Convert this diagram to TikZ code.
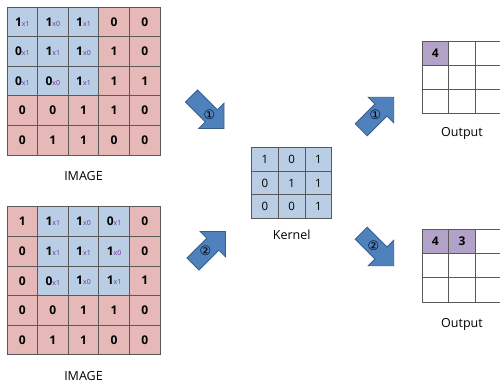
\documentclass[tikz,border=0pt]{standalone}
\usepackage{fontspec}
\setmainfont{Open Sans}
\newfontfamily\circfont{DejaVu Sans}
\usepackage{tikz}
\usetikzlibrary{positioning}

\definecolor{cellblue}{HTML}{B9CDE5}
\definecolor{cellpink}{HTML}{E6B9B8}
\definecolor{cellpurple}{HTML}{B3A2C7}
\definecolor{wtpurple}{HTML}{7030A0}
\definecolor{arrowfill}{HTML}{4F81BD}
\definecolor{arrowline}{HTML}{385D8A}
\definecolor{gridline}{HTML}{595959}

% digit with its kernel weight as a small subscript
\newcommand{\wt}[2]{#1{\fontsize{7}{7}\selectfont\mdseries\color{wtpurple}x#2}}

\tikzset{
  img/.style={draw=gridline, line width=0.8pt, fill=cellpink, minimum width=30.6pt,
    minimum height=29.6pt, inner sep=0pt, font=\fontsize{12}{14}\selectfont\bfseries},
  win/.style={img, fill=cellblue},
  ker/.style={draw=gridline, line width=0.8pt, fill=cellblue, minimum width=26.7pt,
    minimum height=23.7pt, inner sep=0pt, font=\fontsize{11.5}{13}\selectfont},
  outc/.style={draw=gridline, line width=0.8pt, fill=white, minimum width=26.7pt,
    minimum height=24.2pt, inner sep=0pt, font=\fontsize{12}{14}\selectfont\bfseries},
  hit/.style={outc, fill=cellpurple},
  caption/.style={font=\fontsize{12.5}{14}\selectfont, anchor=base},
  circnum/.style={font=\circfont\fontsize{13}{13}\selectfont, inner sep=0pt},
  pics/fatarrow/.style={code={
    \filldraw[fill=arrowfill, draw=arrowline, line width=0.8pt]
      (-28,-8.5) -- (0,-8.5) -- (0,-18) -- (18,0) -- (0,18) -- (0,8.5) -- (-28,8.5) -- cycle;
  }}
}

\begin{document}
\begin{tikzpicture}[x=1pt, y=-1pt]
\useasboundingbox (0,0) rectangle (500,384);
\clip (0,0) rectangle (500,384);

% first step: window in the top left corner
\foreach \row [count=\r from 0] in {
  {win/\wt11, win/\wt10, win/\wt11, img/0, img/0},
  {win/\wt01, win/\wt11, win/\wt10, img/1, img/0},
  {win/\wt01, win/\wt00, win/\wt11, img/1, img/1},
  {img/0, img/0, img/1, img/1, img/0},
  {img/0, img/1, img/1, img/0, img/0}}
  \foreach \s/\v [count=\c from 0] in \row
    \node[\s] (ia-\r-\c) at ({22.3+30.6*\c},{21.8+29.6*\r}) {\v};
\node[caption] (capa) at (83.5,180) {IMAGE};

% second step: window moved one column to the right
\foreach \row [count=\r from 0] in {
  {img/1, win/\wt11, win/\wt10, win/\wt01, img/0},
  {img/0, win/\wt11, win/\wt11, win/\wt10, img/0},
  {img/0, win/\wt01, win/\wt10, win/\wt11, img/1},
  {img/0, img/0, img/1, img/1, img/0},
  {img/0, img/1, img/1, img/0, img/0}}
  \foreach \s/\v [count=\c from 0] in \row
    \node[\s] (ib-\r-\c) at ({22.3+30.6*\c},{221.5+29.6*\r}) {\v};
\node[caption] (capb) at (83.5,380) {IMAGE};

% kernel
\foreach \row [count=\r from 0] in {{1,0,1},{0,1,1},{0,0,1}}
  \foreach \v [count=\c from 0] in \row
    \node[ker] (k-\r-\c) at ({265+26.7*\c},{159.2+23.7*\r}) {\v};
\node[caption] (capk) at (291.7,239.5) {Kernel};

% outputs
\foreach \r in {0,1,2}
  \foreach \c in {0,1,2} {
    \node[outc] (oa-\r-\c) at ({435.4+26.7*\c},{53.1+24.2*\r}) {};
    \node[outc] (ob-\r-\c) at ({435.4+26.7*\c},{241.4+24.2*\r}) {};
  }
\node[hit] at (oa-0-0) {4};
\node[hit] at (ob-0-0) {4};
\node[hit] at (ob-0-1) {3};
\node[caption] (capoa) at (462,136.7) {Output};
\node[caption] (capob) at (462,327.3) {Output};

% step arrows
\pic[rotate=-45] at (211.3,115.8) {fatarrow};
\node[circnum] (na) at (209.5,114.5) {①};
\pic[rotate=45] at (212.8,244.2) {fatarrow};
\node[circnum] (nb) at (205.5,250.5) {②};
\pic[rotate=45] at (381,110) {fatarrow};
\node[circnum] (nc) at (375.5,115) {①};
\pic[rotate=-45] at (381,253) {fatarrow};
\node[circnum] (nd) at (373.5,246) {②};
\end{tikzpicture}
\end{document}
